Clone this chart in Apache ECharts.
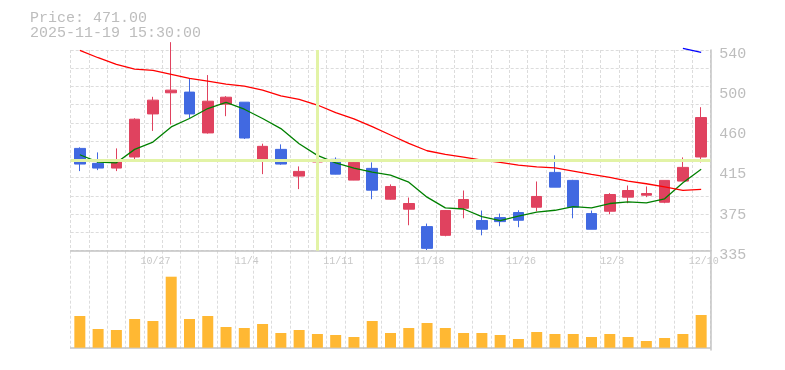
<!DOCTYPE html>
<html><head><meta charset="utf-8">
<script src="https://cdn.jsdelivr.net/npm/echarts@6/dist/echarts.min.js"></script>
<style>html,body{margin:0;padding:0;background:#fff}#c{width:785px;height:370px}</style>
</head><body><div id="c"></div>
<script>
const dates = ['10/21','10/22','10/23','10/24','10/27','10/28','10/29','10/30','10/31','11/4','11/5','11/6','11/7','11/10','11/11','11/12','11/13','11/14','11/17','11/18','11/19','11/20','11/21','11/25','11/26','11/27','11/28','12/1','12/2','12/3','12/4','12/5','12/8','12/9','12/10'];
const opens  = [439.5,424.2,419.4,430.7,474.7,496.3,497.0,455.3,484.7,486.7,428.6,438.5,411.2,425.6,428.3,407.1,419.1,387.6,377.4,359.6,350.7,378.4,365.8,368.8,374.0,379.4,415.0,406.8,372.9,375.3,389.7,391.7,384.5,406.1,430.7];
const closes = [423.5,419.4,426.2,469.3,488.8,499.0,474.7,487.7,491.8,450.1,441.6,423.5,416.0,427.3,413.2,425.2,396.8,400.6,383.2,337.4,376.0,387.3,356.9,364.7,366.1,390.4,399.9,379.4,356.9,392.4,396.5,393.4,406.8,420.1,471.0];
const lows   = [416.3,417.3,416.3,426.6,457.3,463.8,470.6,454.6,472.4,449.1,413.2,422.8,397.9,419.4,413.0,407.0,387.6,387.0,361.0,335.7,349.7,368.1,350.7,360.0,359.0,375.3,399.9,368.1,356.9,372.2,383.5,389.7,383.5,406.0,425.2];
const highs  = [440.6,435.4,439.5,470.3,492.2,548.0,511.0,514.4,492.9,486.7,444.3,443.6,421.1,439.5,430.3,426.2,425.2,402.7,389.3,362.7,376.5,396.5,376.0,372.9,376.3,405.7,432.4,407.4,376.0,393.8,401.6,400.6,406.8,430.3,481.6];
const ma5  = [433.0,425.5,424.8,438.5,446.0,461.4,470.0,480.2,486.4,479.5,470.0,459.7,444.3,432.4,424.8,419.4,415.3,412.2,405.0,389.7,378.7,377.6,369.8,365.8,370.2,374.3,376.3,380.0,378.7,383.2,384.9,383.9,388.0,404.4,418.1];
const ma25 = [539.7,532.1,525.3,520.5,519.2,515.1,511.0,508.3,505.2,503.1,499.0,493.2,489.6,483.8,476.0,469.6,461.7,453.2,444.6,437.1,433.3,430.6,427.5,425.2,422.4,420.7,419.7,416.3,412.9,409.9,406.1,403.4,400.3,396.6,397.6];
const ma75 = [null,null,null,null,null,null,null,null,null,null,null,null,null,null,null,null,null,null,null,null,null,null,null,null,null,null,null,null,null,null,null,null,null,541.7,537.6];
const volumes = [317,187,177,287,267,710,287,317,207,197,237,147,177,137,127,107,267,147,197,247,197,147,147,127,87,157,137,137,107,137,107,67,97,137,327];
const yTickValues = [335,376,417,458,499,540];
const headerLines = ['Price: 471.00','2025-11-19 15:30:00'];
const crossIndex = 13;
const crossPrice = 427.3;

const ohlc = dates.map((d,i)=>[opens[i],closes[i],lows[i],highs[i]]);
const MONO = 'Liberation Mono';
const AXIS_COLOR = '#c4c4c4';
const SPLIT = {show:true, interval:0, lineStyle:{color:'#dcdcdc', type:[3,2], width:1}};

const chart = echarts.init(document.getElementById('c'), null, {renderer:'canvas'});
chart.setOption({
  animation:false,
  backgroundColor:'#fff',
  title:{text:headerLines.join('\n'), left:30, top:10.5, padding:0,
    textStyle:{fontFamily:MONO, fontSize:15, lineHeight:15, fontWeight:'normal', color:'#bdbdbd'}},
  grid:[
    {left:70.7, top:50, width:639.6, height:200.7, outerBoundsMode:'none', containLabel:false},
    {left:70.7, top:250.7, width:639.6, height:99.3, outerBoundsMode:'none', containLabel:false}
  ],
  xAxis:[
    {type:'category', gridIndex:0, data:dates, boundaryGap:true,
     axisLine:{show:true, lineStyle:{color:AXIS_COLOR, width:1.5}}, axisTick:{show:false},
     axisLabel:{interval:(i)=> i%5===4, fontFamily:MONO, fontSize:10, color:'#c8c8c8', margin:6, padding:[0,0,0,5]},
     splitLine:SPLIT},
    {type:'category', gridIndex:1, data:dates, boundaryGap:true,
     axisLine:{show:true, lineStyle:{color:AXIS_COLOR, width:1.5}}, axisTick:{show:false},
     axisLabel:{show:false}, splitLine:SPLIT}
  ],
  yAxis:[
    {type:'value', gridIndex:0, position:'right', min:335, max:540, scale:true,
     axisLine:{show:true, lineStyle:{color:AXIS_COLOR, width:1.5}}, axisTick:{show:false},
     splitLine:{show:false},
     axisLabel:{customValues:yTickValues, formatter:(v)=>String(Math.round(v/5)*5),
       fontFamily:MONO, fontSize:15, color:'#bdbdbd', margin:9, verticalAlign:'top', lineHeight:8}},
    {type:'value', gridIndex:0, min:0, max:11, interval:1, position:'left',
     axisLine:{show:false}, axisTick:{show:false}, axisLabel:{show:false},
     splitLine:{show:true, lineStyle:{color:'#dcdcdc', type:[3,2], width:1}}},
    {type:'value', gridIndex:1, position:'right', min:-23, max:970,
     axisLine:{show:true, lineStyle:{color:AXIS_COLOR, width:1.5}}, axisTick:{show:false},
     axisLabel:{show:false}, splitLine:{show:false}}
  ],
  series:[
    {type:'line', name:'cross', xAxisIndex:0, yAxisIndex:0, data:[], z:1,
     markLine:{silent:true, symbol:'none', label:{show:false}, animation:false,
       lineStyle:{color:'#e2f3a6', width:3, type:'solid'},
       emphasis:{disabled:true},
       data:[{xAxis:dates[crossIndex]},{yAxis:crossPrice}]}},
    {type:'candlestick', name:'price', xAxisIndex:0, yAxisIndex:0, data:ohlc, barWidth:11, z:3,
     itemStyle:{color:'#e0425f', color0:'#4169e1', borderColor:'#e0425f', borderColor0:'#4169e1', borderWidth:1}},
    {type:'line', name:'MA5', xAxisIndex:0, yAxisIndex:0, data:ma5, showSymbol:false, z:4,
     lineStyle:{color:'#008000', width:1.3}},
    {type:'line', name:'MA25', xAxisIndex:0, yAxisIndex:0, data:ma25, showSymbol:false, z:4,
     lineStyle:{color:'#ff0000', width:1.3}},
    {type:'line', name:'MA75', xAxisIndex:0, yAxisIndex:0, data:ma75, showSymbol:false, z:4, clip:false,
     lineStyle:{color:'#0000ff', width:1.3}},
    {type:'bar', name:'volume', xAxisIndex:1, yAxisIndex:2, data:volumes, barWidth:11, z:3,
     itemStyle:{color:'#ffb833'}}
  ]
});
</script></body></html>
